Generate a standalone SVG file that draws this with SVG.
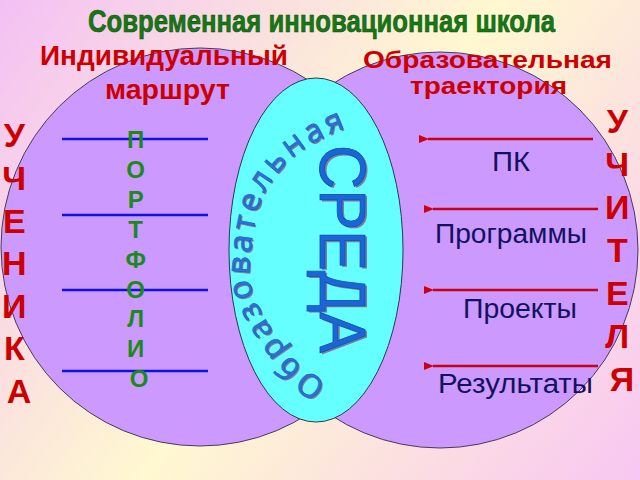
<svg xmlns="http://www.w3.org/2000/svg" xmlns:xlink="http://www.w3.org/1999/xlink" width="640" height="480" viewBox="0 0 640 480">
  <defs>
    <linearGradient id="bg" gradientUnits="userSpaceOnUse" x1="0" y1="0" x2="640" y2="480">
      <stop offset="0" stop-color="#f4c0f4"/>
      <stop offset="0.5" stop-color="#fff8d0"/>
      <stop offset="1" stop-color="#f8c6f2"/>
    </linearGradient>
    <marker id="redHead" viewBox="0 0 10 8" refX="1" refY="4" markerWidth="10" markerHeight="8" markerUnits="userSpaceOnUse" orient="auto-start-reverse">
      <path d="M0,4 L10,0 L10,8 Z" fill="#cc0010"/>
    </marker>
    <path id="arcPath" d="M 338,384 C 334.3,382.7 324.5,381.5 316,376 C 307.5,370.5 297.5,364.7 287,351 C 276.5,337.3 259,310.8 253,294 C 247,277.2 249.7,265.5 251,250 C 252.3,234.5 255.8,214.7 261,201 C 266.2,187.3 274.2,177.2 282,168 C 289.8,158.8 297.8,152.5 308,146 C 318.2,139.5 332.3,133 343,129 C 353.7,125 367.2,123.2 372,122"/>
    <style>
      .circle { fill: #cc99ff; stroke: #4a3a5a; stroke-width: 1; }
      .lens { fill: #66ffff; stroke: #2a3a4a; stroke-width: 1; }
      .red { font-family: "Liberation Sans", Arial, sans-serif; font-weight: bold; fill: #cc0000; }
      .green { font-family: "Liberation Sans", Arial, sans-serif; font-weight: bold; fill: #1a8a1a; }
      .navy { font-family: "Liberation Sans", Arial, sans-serif; fill: #12125e; font-size: 27px; }
      .title { font-family: "Liberation Sans", Arial, sans-serif; font-weight: bold; font-size: 32px; fill: #137a13; stroke: #0b4d0b; stroke-width: 0.6; }
      .blueLine { stroke: #1010e8; stroke-width: 2.5; fill: none; }
      .redLine { stroke: #cc0010; stroke-width: 2.5; fill: none; }
      .arcText { font-family: "Open Sans", "DejaVu Sans", sans-serif; font-size: 32px; letter-spacing: 3.5px; }
      .sreda { font-family: "Liberation Sans", Arial, sans-serif; font-size: 64px; }
    </style>
  </defs>

  <rect x="0" y="0" width="640" height="480" fill="url(#bg)"/>

  <g id="title">
    <text class="title" x="88" y="32" textLength="467" lengthAdjust="spacingAndGlyphs">Современная инновационная школа</text>
  </g>

  <g id="left-circle">
    <circle class="circle" cx="200" cy="247" r="199"/>
  </g>
  <g id="right-circle">
    <circle class="circle" cx="440" cy="250" r="198"/>
  </g>

  <g id="sreda-ellipse">
    <ellipse class="lens" cx="316" cy="250" rx="87" ry="172"/>
    <text class="arcText" fill="#7b7b9a" transform="translate(1.5,1.5)"><textPath xlink:href="#arcPath" href="#arcPath" startOffset="11">Образовательная</textPath></text>
    <text class="arcText" fill="#2a72dc" stroke="#1a55b8" stroke-width="0.5"><textPath xlink:href="#arcPath" href="#arcPath" startOffset="11">Образовательная</textPath></text>
    <text class="sreda" fill="#7b7b9a" transform="translate(321.5,146.5) rotate(90)" textLength="208" lengthAdjust="spacingAndGlyphs">СРЕДА</text>
    <text class="sreda" fill="#1a66d8" stroke="#1450b0" stroke-width="0.8" transform="translate(320,145) rotate(90)" textLength="208" lengthAdjust="spacingAndGlyphs">СРЕДА</text>
  </g>

  <g id="label-individual">
    <text class="red" font-size="27" x="40" y="65" textLength="248" lengthAdjust="spacingAndGlyphs">Индивидуальный</text>
    <text class="red" font-size="27" x="105" y="99" textLength="125" lengthAdjust="spacingAndGlyphs">маршрут</text>
  </g>
  <g id="label-trajectory">
    <text class="red" font-size="24" x="363" y="68" textLength="249" lengthAdjust="spacingAndGlyphs">Образовательная</text>
    <text class="red" font-size="24" x="410" y="94" textLength="157" lengthAdjust="spacingAndGlyphs">траектория</text>
  </g>

  <g id="student">
    <text class="red" font-size="34" text-anchor="middle">
      <tspan x="19" y="147">У</tspan>
      <tspan x="19" y="190">Ч</tspan>
      <tspan x="19" y="233">Е</tspan>
      <tspan x="19" y="275">Н</tspan>
      <tspan x="19" y="318">И</tspan>
      <tspan x="19" y="360">К</tspan>
      <tspan x="19" y="403">А</tspan>
    </text>
  </g>

  <g id="teacher">
    <text class="red" font-size="34" text-anchor="middle">
      <tspan x="622" y="133">У</tspan>
      <tspan x="622" y="176">Ч</tspan>
      <tspan x="622" y="219">И</tspan>
      <tspan x="622" y="262">Т</tspan>
      <tspan x="622" y="305">Е</tspan>
      <tspan x="622" y="348">Л</tspan>
      <tspan x="622" y="391">Я</tspan>
    </text>
  </g>

  <g id="connectors">
    <line class="blueLine" x1="62" y1="139" x2="208" y2="139"/>
    <line class="blueLine" x1="62" y1="215" x2="208" y2="215"/>
    <line class="blueLine" x1="62" y1="290" x2="208" y2="290"/>
    <line class="blueLine" x1="62" y1="371" x2="208" y2="371"/>
    <line class="redLine" x1="593" y1="139" x2="428" y2="139" marker-end="url(#redHead)"/>
    <line class="redLine" x1="598" y1="209" x2="433" y2="209" marker-end="url(#redHead)"/>
    <line class="redLine" x1="598" y1="290" x2="433" y2="290" marker-end="url(#redHead)"/>
    <line class="redLine" x1="598" y1="366" x2="433" y2="366" marker-end="url(#redHead)"/>
  </g>

  <g id="portfolio">
    <text class="green" font-size="24" text-anchor="middle">
      <tspan x="139" y="148">П</tspan>
      <tspan x="139" y="178">О</tspan>
      <tspan x="139" y="208">Р</tspan>
      <tspan x="139" y="238">Т</tspan>
      <tspan x="139" y="268">Ф</tspan>
      <tspan x="139" y="298">О</tspan>
      <tspan x="139" y="327">Л</tspan>
      <tspan x="139" y="357">И</tspan>
      <tspan x="139" y="387">О</tspan>
    </text>
  </g>

  <g id="teacher-items">
    <text class="navy" x="492" y="171" textLength="38" lengthAdjust="spacingAndGlyphs">ПК</text>
    <text class="navy" x="435" y="243" textLength="152" lengthAdjust="spacingAndGlyphs">Программы</text>
    <text class="navy" x="463" y="318" textLength="114" lengthAdjust="spacingAndGlyphs">Проекты</text>
    <text class="navy" x="438" y="393" textLength="155" lengthAdjust="spacingAndGlyphs">Результаты</text>
  </g>
</svg>
